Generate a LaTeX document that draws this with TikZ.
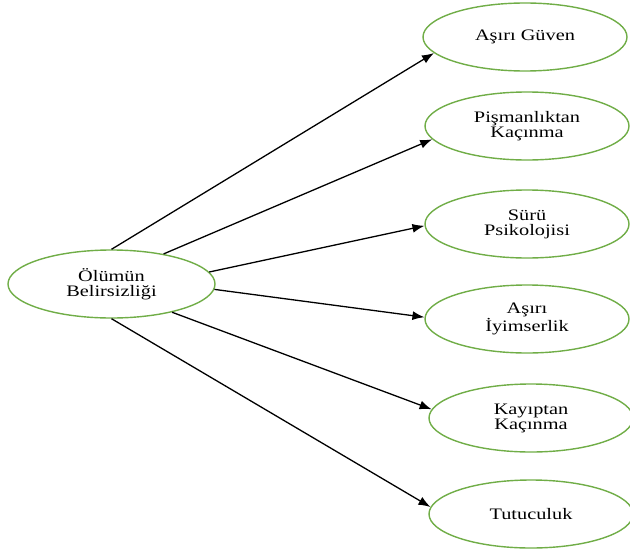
\documentclass[tikz,border=0pt]{standalone}
\usepackage{fontspec}
\setmainfont[FakeStretch=1.27]{Liberation Serif}
\usetikzlibrary{arrows.meta}
\usetikzlibrary{shapes.geometric}
\definecolor{ellgreen}{RGB}{112,173,71}
\tikzset{%
  myedge/.style={-{Latex[length=6pt,width=4.5pt]}, line width=0.65pt},
  mynode/.style={ellipse, draw=ellgreen, line width=0.7pt, minimum width=102pt, minimum height=34pt, align=center, font=\fontsize{8}{7.5}\selectfont}
}

\begin{document}
\begin{tikzpicture}[x=0.5pt,y=0.5pt]
\useasboundingbox (0,0) rectangle (630,553);

\node [mynode, minimum width=103.5pt] (U) at (111.5,269) {Ölümün\\Belirsizliği};

% right hand nodes
\foreach \name / \xx / \yy / \txt in {B1/525/516/{Aşırı Güven}, B2/527/427/{Pişmanlıktan\\Kaçınma},
  B3/527/329/{Sürü\\Psikolojisi}, B4/527/234/{Aşırı\\İyimserlik},
  B5/531/135/{Kayıptan\\Kaçınma}, B6/531/39/{Tutuculuk}}{
  \node [mynode] (\name) at (\xx,\yy) {\txt};
}

\foreach \a / \b / \t in {90/190/B1, 30/188/B2, 7/181/B3, -3/179/B4, -25/175/B5, -90/176/B6}{
  \draw [myedge] (U.\a) -- (\t.\b);
}

\end{tikzpicture}
\end{document}
